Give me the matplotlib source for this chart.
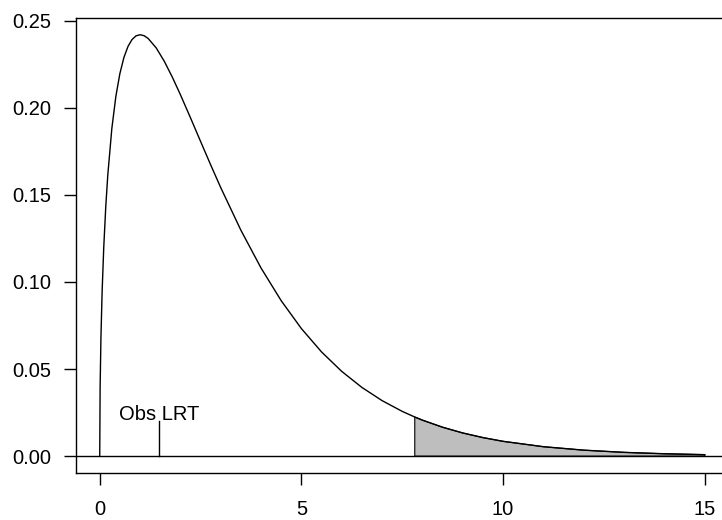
import matplotlib
matplotlib.use("Agg")
from matplotlib import pyplot as plt

plt.rcParams['font.family'] = ['Liberation Sans', 'DejaVu Sans']

# density values
x_vals = [0, 0.01, 0.03, 0.06, 0.1, 0.15, 0.2, 0.3, 0.4, 0.5, 0.6, 0.7, 0.8, 0.9,
          1.0, 1.1, 1.2, 1.4, 1.6, 1.8, 2.0, 2.25, 2.5, 2.75, 3.0, 3.5, 4.0, 4.5,
          5.0, 5.5, 6.0, 6.5, 7.0, 7.5, 7.81, 8.0, 8.5, 9.0, 9.5, 10, 11, 12,
          13, 14, 15]
y_vals = [0, 0.03970, 0.06807, 0.09483, 0.12000, 0.14334, 0.16143, 0.18807,
          0.20658, 0.21970, 0.22893, 0.23521, 0.23919, 0.24133, 0.24197, 0.24141,
          0.23984, 0.23441, 0.22674, 0.21761, 0.20755, 0.19427, 0.18072, 0.16727,
          0.15418, 0.12970, 0.10798, 0.08920, 0.07322, 0.05981, 0.04865, 0.03944,
          0.03187, 0.02569, 0.02245, 0.02067, 0.01659, 0.01330, 0.01064, 0.00850,
          0.00541, 0.00343, 0.00216, 0.00136, 0.00085]

crit = 7.81
obs_lrt = 1.47
obs_height = 0.02
x_ticks = [0, 5, 10, 15]
y_ticks = [0.00, 0.05, 0.10, 0.15, 0.20, 0.25]

fig = plt.figure(figsize=(7.22, 5.2), dpi=100)
ax = fig.add_axes([0.1046, 0.0904, 1.0097 - 0.1046, 0.9658 - 0.0904])

ax.plot(x_vals, y_vals, color='black', lw=1.0)

tail_x = [crit] + [x for x in x_vals if x > crit]
tail_y = [y_vals[x_vals.index(crit)]] + [y for x, y in zip(x_vals, y_vals) if x > crit]
ax.fill(tail_x + [tail_x[-1], crit], tail_y + [0, 0],
        facecolor='#bebebe', edgecolor='black', lw=0.8)

ax.axhline(0, color='black', lw=1.0)
ax.plot([obs_lrt, obs_lrt], [0, obs_height], color='black', lw=1.0)
ax.text(obs_lrt, obs_height + 0.0007, "Obs LRT", ha='center', va='baseline', fontsize=14.5)

ax.set_xlim(-0.6, 15.6)
ax.set_ylim(-0.00968, 0.2517)
ax.set_xticks(x_ticks)
ax.set_yticks(y_ticks)
ax.set_xticklabels([str(t) for t in x_ticks])
ax.set_yticklabels([f"{t:.2f}" for t in y_ticks])
ax.tick_params(axis='x', length=8.6, width=1.0, pad=10.5, labelsize=14.5)
ax.tick_params(axis='y', length=8.8, width=1.0, pad=9, labelsize=14.5)
for s in ['left', 'top', 'bottom']:
    ax.spines[s].set_linewidth(1.0)
ax.spines['right'].set_visible(False)

fig.savefig("out.png", dpi=100)
